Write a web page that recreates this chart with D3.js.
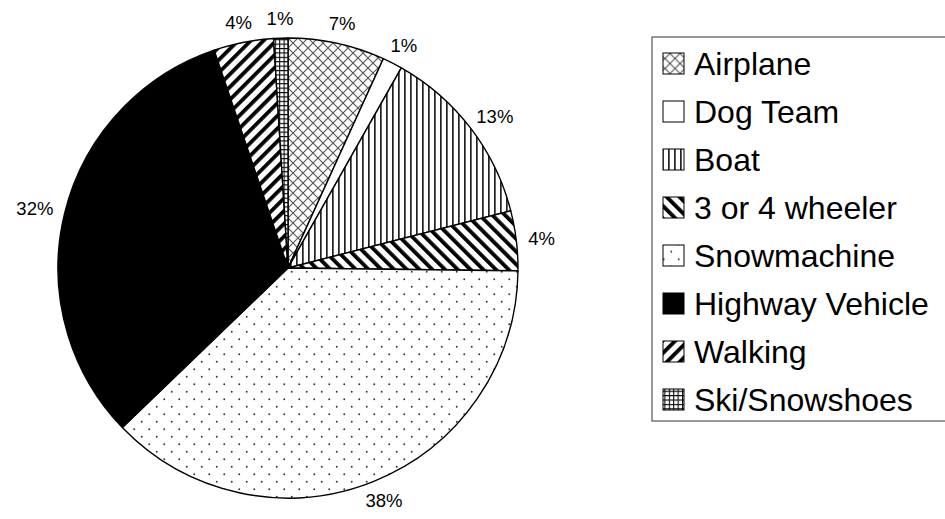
<!DOCTYPE html>
<html><head><meta charset="utf-8">
<script src="https://cdn.jsdelivr.net/npm/d3@7/dist/d3.min.js"></script>
<style>body{margin:0;background:#fff}svg{display:block;font-family:"Liberation Sans",Arial,sans-serif}</style>
</head><body>
<svg id="c" width="945" height="519"></svg>
<script>
const categories = ["Airplane","Dog Team","Boat","3 or 4 wheeler","Snowmachine","Highway Vehicle","Walking","Ski/Snowshoes"];
const values = [6.8, 1.4, 12.8, 4.2, 37.6, 32.0, 4.2, 1.0];
const labels = ["7%","1%","13%","4%","38%","32%","4%","1%"];
const fills = ["url(#p-air)","#ffffff","url(#p-boat)","url(#p-wheel)","url(#p-snow)","#000000","url(#p-walk)","url(#p-ski)"];

const svg = d3.select("#c");
const defs = svg.append("defs");

// patterns
let p = defs.append("pattern").attr("id","p-air").attr("patternUnits","userSpaceOnUse").attr("width",10).attr("height",10);
p.append("rect").attr("width",10).attr("height",10).attr("fill","#fff");
p.append("path").attr("d","M0,0L10,10M10,0L0,10M-1,9L1,11M9,-1L11,1").attr("stroke","#555").attr("stroke-width",1.1);

p = defs.append("pattern").attr("id","p-boat").attr("patternUnits","userSpaceOnUse").attr("width",6).attr("height",6);
p.append("rect").attr("width",6).attr("height",6).attr("fill","#fff");
p.append("rect").attr("x",2).attr("width",1.7).attr("height",6).attr("fill","#222");

p = defs.append("pattern").attr("id","p-wheel").attr("patternUnits","userSpaceOnUse").attr("width",9).attr("height",9).attr("patternTransform","rotate(-45)");
p.append("rect").attr("width",9).attr("height",9).attr("fill","#fff");
p.append("rect").attr("x",0).attr("width",3.8).attr("height",9).attr("fill","#000");

p = defs.append("pattern").attr("id","p-walk").attr("patternUnits","userSpaceOnUse").attr("width",9).attr("height",9).attr("patternTransform","rotate(45)");
p.append("rect").attr("width",9).attr("height",9).attr("fill","#fff");
p.append("rect").attr("x",0).attr("width",3.8).attr("height",9).attr("fill","#000");

p = defs.append("pattern").attr("id","p-snow").attr("patternUnits","userSpaceOnUse").attr("width",15).attr("height",15);
p.append("rect").attr("width",15).attr("height",15).attr("fill","#fff");
p.append("circle").attr("cx",3.75).attr("cy",3.75).attr("r",0.95).attr("fill","#333");
p.append("circle").attr("cx",11.25).attr("cy",11.25).attr("r",0.95).attr("fill","#333");

p = defs.append("pattern").attr("id","p-ski").attr("patternUnits","userSpaceOnUse").attr("width",4.4).attr("height",4.4);
p.append("rect").attr("width",4.4).attr("height",4.4).attr("fill","#fff");
p.append("path").attr("d","M0.5,0V4.4M0,0.5H4.4").attr("stroke","#000").attr("stroke-width",1.1);

// pie
const cx = 288, cy = 268, R = 230;
const pie = d3.pie().sort(null).value(d => d);
const arcs = pie(values);
const arc = d3.arc().innerRadius(0).outerRadius(R);
const g = svg.append("g").attr("transform",`translate(${cx},${cy})`);
g.selectAll("path.slice").data(arcs).enter().append("path")
  .attr("class","slice").attr("d",arc)
  .attr("fill",(d,i)=>fills[i]).attr("stroke","#000").attr("stroke-width",1.4).attr("stroke-linejoin","round");

// labels
const lab = g.selectAll("text.lab").data(arcs).enter().append("text")
  .attr("class","lab").attr("font-size",18.5).attr("fill","#000")
  .attr("text-anchor","middle").attr("dominant-baseline","central")
  .text((d,i)=>labels[i]);
lab.each(function(d){
  const t = d3.select(this);
  const w = this.getComputedTextLength();
  const h = 18;
  const a = (d.startAngle + d.endAngle)/2;
  const s = Math.sin(a), c = Math.cos(a);
  const r0 = R + 11;
  const x = r0*s + (w/2+1)*s;
  const y = -r0*c - (h/2)*c;
  t.attr("x",x).attr("y",y);
});

// legend
const lg = svg.append("g");
lg.append("rect").attr("x",652).attr("y",37).attr("width",320).attr("height",384)
  .attr("fill","#fff").attr("stroke","#555").attr("stroke-width",1.2);
const rowY = d3.scalePoint().domain(categories).range([63.5, 399.5]);
const items = lg.selectAll("g.item").data(categories).enter().append("g").attr("class","item")
  .attr("transform",d=>`translate(0,${rowY(d)})`);
items.append("rect").attr("x",663).attr("y",-10.5).attr("width",21).attr("height",21)
  .attr("fill",(d,i)=>fills[i]).attr("stroke","#000").attr("stroke-width",1);
items.append("text").attr("x",694).attr("y",11.5).attr("font-size",32).attr("fill","#000").text(d=>d);
</script>
</body></html>
